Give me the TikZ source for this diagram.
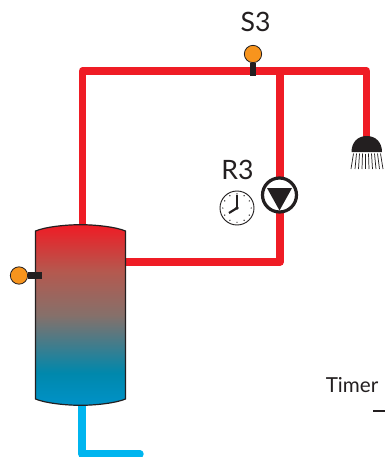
\documentclass[tikz,border=0pt]{standalone}
\usepackage{fontspec}
\setmainfont{Lato}
\definecolor{pipered}{HTML}{EF1C25}
\definecolor{pipeblue}{HTML}{00B5EF}
\definecolor{sensorfill}{HTML}{F7941D}
\definecolor{inkblack}{HTML}{231F20}
\definecolor{tankb}{HTML}{0092C8}
\definecolor{tankc}{HTML}{0088AC}
\definecolor{tankm}{HTML}{86706A}
\definecolor{tanku}{HTML}{B4594F}
\pgfdeclareverticalshading{tankshade}{100bp}{
  color(0bp)=(tankb); color(25bp)=(tankb); color(34bp)=(tankc); color(50bp)=(tankm); color(62bp)=(tanku); color(75bp)=(pipered); color(100bp)=(pipered)}
\tikzset{
  pipe/.style={line width=5.6pt,draw=pipered,line join=round,line cap=round},
  coldpipe/.style={pipe,draw=pipeblue},
  sensorhead/.style={circle,draw=inkblack,line width=0.6pt,fill=sensorfill,minimum size=13pt,inner sep=0pt},
  sensorstem/.style={line width=5.2pt,draw=inkblack},
  label/.style={text=inkblack,font=\fontsize{20}{22}\selectfont,inner sep=0pt},
  smalllabel/.style={text=inkblack,font=\fontsize{15.5}{18}\selectfont,inner sep=0pt},
  pumpbody/.style={circle,draw=inkblack,line width=2.4pt,fill=white,minimum size=25.5pt,inner sep=0pt},
  clockbody/.style={circle,draw=inkblack,line width=0.7pt,fill=white,minimum size=25.5pt,inner sep=0pt}
}
\begin{document}
\begin{tikzpicture}[x=0.75pt,y=-0.75pt]
\useasboundingbox (0,0) rectangle (385,457);
\coordinate (ltop) at (82.5,71);
\coordinate (tee) at (280,71);
\coordinate (rtop) at (366.5,71);
\coordinate (showerin) at (366.5,140);
\coordinate (lbot) at (82.5,228);
\coordinate (ret) at (280,262);
\coordinate (tankout) at (125,262);
\coordinate (coldtop) at (82,404);
\coordinate (coldcorner) at (82,454);
\coordinate (coldend) at (140,454);
% pipes
\draw[pipe] (lbot) -- (ltop) -- (rtop) -- (showerin);
\draw[pipe] (tee) -- (ret) -- (tankout);
\draw[coldpipe] (coldtop) -- (coldcorner) -- (coldend);
% tank
\path[shading=tankshade,draw=inkblack,line width=0.9pt]
  (35.5,231) .. controls (45,227) and (65,224.7) .. (80.5,224.7)
  .. controls (96,224.7) and (116,227) .. (125.5,231)
  -- (125.5,399) .. controls (116,403) and (96,405.3) .. (80.5,405.3)
  .. controls (65,405.3) and (45,403) .. (35.5,399) -- cycle;
% sensors
\node[sensorhead] (tanksensor) at (19,275.5) {};
\coordinate (tankprobe) at (42,275.5);
\draw[sensorstem] (tanksensor.east) -- (tankprobe);
\node[sensorhead] (s3sensor) at (253,54) {};
\coordinate (s3probe) at (253,76);
\draw[sensorstem] (s3sensor.south) -- (s3probe);
% pump
\node[pumpbody] (pump) at (279.5,195) {};
\fill[inkblack] (267,188) -- (292,188) -- (279.5,210.5) -- cycle;
% clock
\node[clockbody] (clock) at (237,208) {};
\foreach \a in {0,30,...,330}{
  \fill[inkblack] (237,208) ++(\a:14.2) circle (0.7);
}
\draw[inkblack,line width=1pt] (237,208) -- (237,195);
\draw[inkblack,line width=1.6pt] (237,208) -- (229,213);
\fill[inkblack] (237,208) circle (1.8);
% shower
\fill[inkblack] (351.5,152) .. controls (351.5,142) and (358,136) .. (366.7,136)
  .. controls (375.5,136) and (382,142) .. (382,152) -- cycle;
\foreach \xa/\xb in {353.5/351,356.5/355,359.5/358.5,362.5/362,365.5/365.5,368.5/369,371.5/372.5,374.5/376,377.5/379.5,380.5/383}{
  \draw[inkblack,line width=0.55pt] (\xa,153.5) -- (\xb,169);
}
% labels
\node[label] (s3) at (255.5,22) {S3};
\node[label] (r3) at (237.5,170) {R3};
\node[smalllabel,anchor=west] (timer) at (325.5,385) {Timer};
\coordinate (dasha) at (373,411);
\coordinate (dashb) at (385,411);
\draw[inkblack,line width=1pt] (dasha) -- (dashb);
\end{tikzpicture}
\end{document}
